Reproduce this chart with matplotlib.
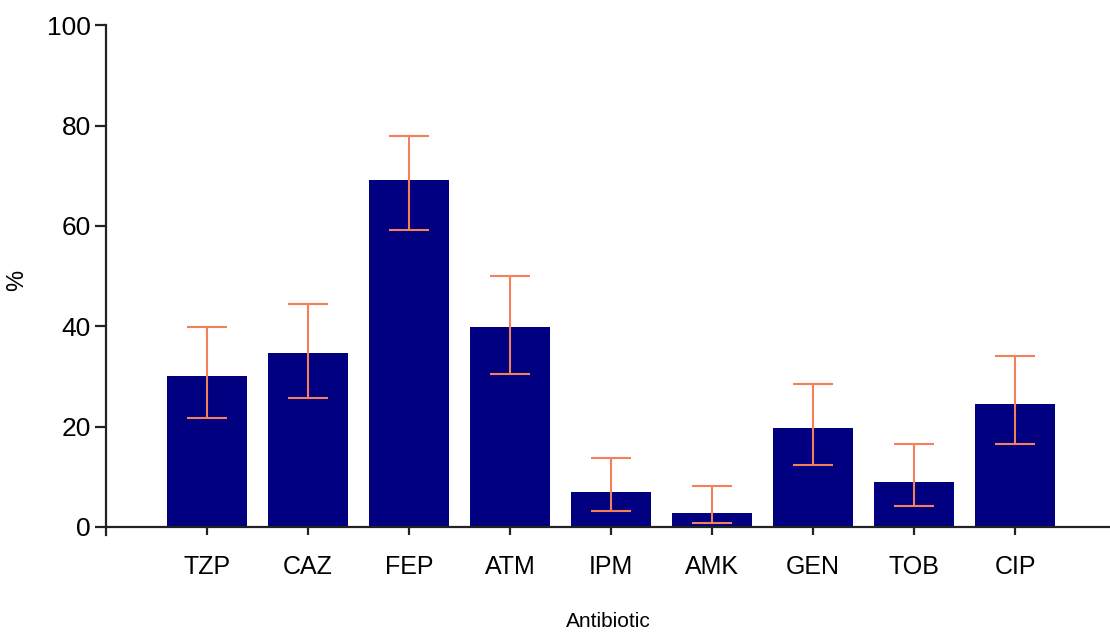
import matplotlib.pyplot as plt
import numpy as np

plt.rcParams['font.family'] = ['Liberation Sans Narrow', 'Liberation Sans', 'DejaVu Sans']

# data
antibiotics = ['TZP', 'CAZ', 'FEP', 'ATM', 'IPM', 'AMK', 'GEN', 'TOB', 'CIP']
percent = [30.1, 34.7, 69.1, 39.8, 7.0, 2.8, 19.7, 9.0, 24.5]
ci_low = [21.7, 25.7, 59.2, 30.5, 3.2, 0.8, 12.4, 4.2, 16.5]
ci_high = [39.8, 44.4, 77.9, 50.0, 13.7, 8.2, 28.5, 16.5, 34.1]

x = np.arange(len(antibiotics))
pct = np.array(percent)
yerr = [pct - np.array(ci_low), np.array(ci_high) - pct]

fig = plt.figure(figsize=(11.1, 6.32), dpi=100)
ax = fig.add_axes([0.0955, 0.1535, 0.9045, 0.8065])

ax.bar(x, pct, width=0.8, color='#000080', zorder=2)
ax.errorbar(x, pct, yerr=yerr, fmt='none', ecolor='#F4805A',
            elinewidth=1.5, capsize=14.5, capthick=1.5, zorder=3)

ax.set_xlim(-1, 8.94)
ax.set_ylim(-1.6, 100)
ax.set_yticks([0, 20, 40, 60, 80, 100])
ax.set_xticks(x)
ax.set_xticklabels(antibiotics)

for s in ['top', 'right']:
    ax.spines[s].set_visible(False)
ax.spines['bottom'].set_position(('data', 0))
for s in ['left', 'bottom']:
    ax.spines[s].set_linewidth(1.6)
    ax.spines[s].set_color('#222222')

ax.tick_params(axis='y', length=8, width=1.6, color='#222222', pad=3, labelsize=19)
ax.tick_params(axis='x', length=6, width=1.6, color='#222222', pad=14, labelsize=18)

ax.set_xlabel('Antibiotic', fontsize=15, labelpad=24)
ax.set_ylabel('%', fontsize=17)
ax.yaxis.set_label_coords(-0.078, 0.5)

fig.savefig('out.png', dpi=100)
